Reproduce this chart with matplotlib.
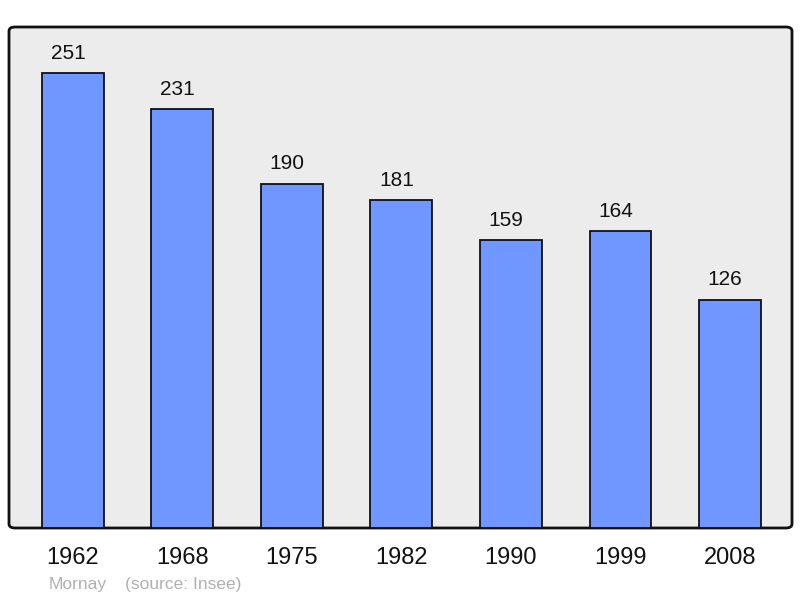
import matplotlib
matplotlib.use("Agg")
import matplotlib.pyplot as plt
from matplotlib.patches import FancyBboxPatch
from matplotlib.transforms import offset_copy

years = ["1962", "1968", "1975", "1982", "1990", "1999", "2008"]
population = [251, 231, 190, 181, 159, 164, 126]
commune = "Mornay"
source = "(source: Insee)"

plt.rcParams['font.family'] = ['Liberation Sans', 'DejaVu Sans']

fig = plt.figure(figsize=(8.0, 5.98), dpi=100)
ax = fig.add_axes([9/800, 1 - 528/598, (792-9)/800, (528-27)/598])
ax.set_facecolor('none')

# background frame with rounded corners
bg = FancyBboxPatch((0, 0), 1, 1, boxstyle="round,pad=0,rounding_size=0.008",
                    transform=ax.transAxes, facecolor='#ececec', edgecolor='#111111',
                    linewidth=2.0, clip_on=False, zorder=0)
ax.add_patch(bg)

x = list(range(len(years)))
bars = ax.bar(x, population, width=0.566, color='#7096ff', edgecolor='#111111',
              linewidth=1.3, zorder=2)
label_tr = offset_copy(ax.transData, fig=fig, x=-3.6, y=-1.5, units='points')
for xi, v in zip(x, population):
    ax.text(xi, v + 12, str(v), ha='center', va='center', fontsize=15,
            color='#111111', zorder=3, transform=label_tr)

ax.set_xlim(-0.584, 6.566)
ax.set_ylim(0, 276.4)
ax.set_xticks(x)
ax.set_xticklabels(years, fontsize=17, color='#111111')
ax.tick_params(axis='x', length=0, pad=13.5)
ax.set_yticks([])
for s in ax.spines.values():
    s.set_visible(False)

fig.text(49/800, 1 - 584/598, commune, fontsize=12.5, color='#b0b0b0', ha='left', va='center')
fig.text(125/800, 1 - 584/598, source, fontsize=12.5, color='#b0b0b0', ha='left', va='center')

fig.savefig("out.png", dpi=100)
